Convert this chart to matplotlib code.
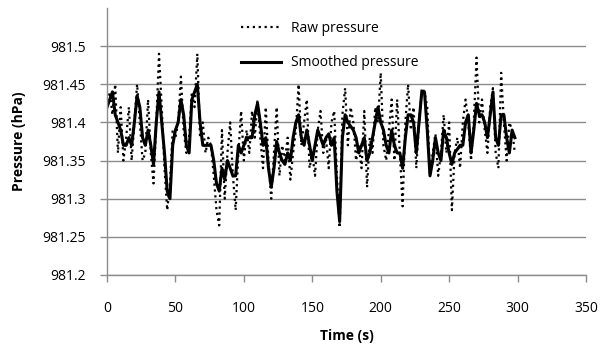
import numpy as np
import matplotlib.pyplot as plt

# time axis, one sample every 2 s
time_s = np.arange(0, 300, 2)

raw_pressure = [
    981.42, 981.44, 981.41, 981.45, 981.36, 981.42, 981.35, 981.38, 981.42, 981.35,
    981.40, 981.45, 981.40, 981.35, 981.36, 981.43, 981.36, 981.32, 981.40, 981.49,
    981.42, 981.34, 981.285, 981.32, 981.39, 981.38, 981.40, 981.46, 981.39, 981.36,
    981.38, 981.44, 981.42, 981.49, 981.38, 981.40, 981.36, 981.38, 981.37, 981.33,
    981.285, 981.265, 981.39, 981.30, 981.36, 981.40, 981.33, 981.285, 981.36, 981.415,
    981.35, 981.39, 981.36, 981.415, 981.38, 981.43, 981.38, 981.34, 981.42, 981.35,
    981.30, 981.36, 981.42, 981.33, 981.37, 981.35, 981.38, 981.325, 981.36, 981.39,
    981.45, 981.37, 981.40, 981.43, 981.34, 981.36, 981.33, 981.39, 981.415, 981.36,
    981.38, 981.34, 981.40, 981.415, 981.33, 981.262, 981.41, 981.445, 981.37, 981.42,
    981.40, 981.35, 981.37, 981.34, 981.415, 981.315, 981.38, 981.36, 981.42, 981.40,
    981.465, 981.37, 981.35, 981.39, 981.43, 981.35, 981.43, 981.36, 981.29, 981.40,
    981.45, 981.39, 981.42, 981.34, 981.40, 981.445, 981.44, 981.42, 981.33, 981.36,
    981.385, 981.33, 981.36, 981.41, 981.36, 981.40, 981.285, 981.36, 981.38, 981.34,
    981.40, 981.43, 981.40, 981.35, 981.40, 981.485, 981.40, 981.43, 981.39, 981.36,
    981.42, 981.445, 981.36, 981.34, 981.465, 981.40, 981.35, 981.40, 981.39, 981.36,
]

smoothed_pressure = [
    981.42, 981.43, 981.44, 981.41, 981.40, 981.39, 981.37, 981.37, 981.38, 981.37,
    981.40, 981.435, 981.42, 981.38, 981.37, 981.39, 981.37, 981.345, 981.40, 981.44,
    981.40, 981.36, 981.31, 981.30, 981.37, 981.39, 981.40, 981.43, 981.41, 981.37,
    981.36, 981.43, 981.44, 981.45, 981.40, 981.37, 981.37, 981.37, 981.37, 981.35,
    981.32, 981.31, 981.34, 981.325, 981.35, 981.34, 981.33, 981.33, 981.37, 981.36,
    981.37, 981.38, 981.38, 981.38, 981.41, 981.425, 981.40, 981.37, 981.38, 981.34,
    981.315, 981.34, 981.375, 981.36, 981.35, 981.345, 981.36, 981.35, 981.38, 981.40,
    981.41, 981.38, 981.37, 981.39, 981.37, 981.35, 981.37, 981.39, 981.38, 981.37,
    981.38, 981.385, 981.37, 981.38, 981.31, 981.27, 981.38, 981.41, 981.40, 981.395,
    981.39, 981.38, 981.36, 981.37, 981.38, 981.35, 981.36, 981.38, 981.40, 981.42,
    981.40, 981.39, 981.37, 981.36, 981.39, 981.37, 981.36, 981.36, 981.34, 981.38,
    981.41, 981.41, 981.40, 981.36, 981.40, 981.44, 981.44, 981.39, 981.33, 981.35,
    981.38, 981.36, 981.35, 981.39, 981.38, 981.36, 981.345, 981.36, 981.365, 981.37,
    981.37, 981.40, 981.41, 981.36, 981.39, 981.425, 981.41, 981.41, 981.40, 981.38,
    981.41, 981.44, 981.38, 981.37, 981.41, 981.41, 981.38, 981.36, 981.39, 981.38,
]

x_ticks = [0, 50, 100, 150, 200, 250, 300, 350]
y_ticks = [981.2, 981.25, 981.3, 981.35, 981.4, 981.45, 981.5]
y_tick_labels = ['981.2', '981.25', '981.3', '981.35', '981.4', '981.45', '981.5']

plt.rcParams['font.family'] = ['Open Sans', 'DejaVu Sans']
grey = '#8c8c8c'

fig = plt.figure(figsize=(6.05, 3.46), dpi=100)
# plot area in pixels: x 107..586, y 8..275
ax = fig.add_axes([107 / 605, 1 - 275 / 346, 479 / 605, 267 / 346])

ax.plot(time_s, raw_pressure, color='black', linestyle=':', linewidth=1.6,
        label='Raw pressure')
ax.plot(time_s, smoothed_pressure, color='black', linestyle='-', linewidth=2.2,
        label='Smoothed pressure')

ax.set_xlim(0, 350)
ax.set_ylim(981.2, 981.55)
ax.set_xticks(x_ticks)
ax.set_yticks(y_ticks)
ax.set_yticklabels(y_tick_labels)

ax.grid(axis='y', color=grey, linewidth=1.0)
ax.set_axisbelow(True)
for side in ['top', 'right']:
    ax.spines[side].set_visible(False)
for side in ['left', 'bottom']:
    ax.spines[side].set_color(grey)
    ax.spines[side].set_linewidth(1.0)

ax.tick_params(axis='both', colors=grey, labelcolor='black', labelsize=10,
               length=5, width=1.0, direction='out')
ax.tick_params(axis='y', pad=10)
ax.tick_params(axis='x', pad=14)

ax.set_xlabel('Time (s)', fontsize=10, fontweight='bold', labelpad=9)
ax.set_ylabel('Pressure (hPa)', fontsize=10, fontweight='bold', labelpad=12)

leg = ax.legend(loc='upper left', bbox_to_anchor=(241 / 605, 1 - 21 / 346),
                bbox_transform=fig.transFigure, frameon=False, fontsize=10,
                handlelength=2.9, handletextpad=0.7, labelspacing=1.4,
                borderaxespad=0, borderpad=0)

fig.savefig('out.png', dpi=100)
